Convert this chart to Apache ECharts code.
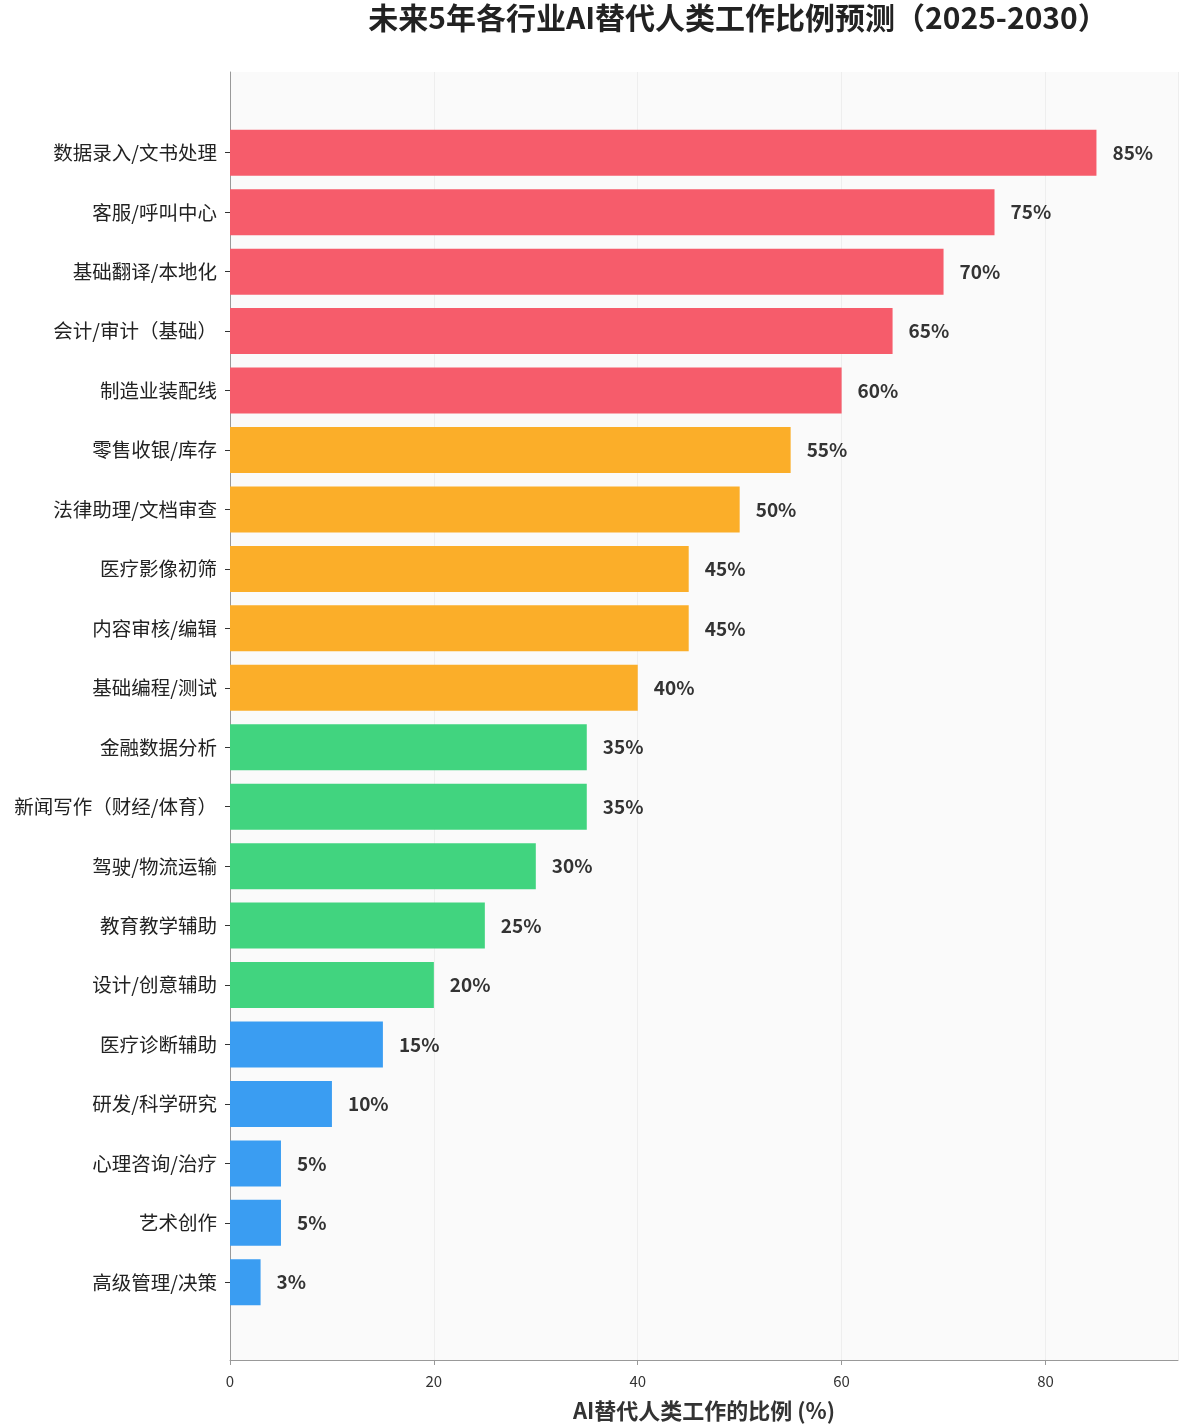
<!DOCTYPE html><html><head><meta charset="utf-8"><script src="https://cdn.jsdelivr.net/npm/echarts@6/dist/echarts.min.js"></script>
<style>html,body{margin:0;background:#fff}#c{width:1179px;height:1427px}</style></head><body><div id="c"></div><script>
const categories=["数据录入/文书处理","客服/呼叫中心","基础翻译/本地化","会计/审计（基础）","制造业装配线","零售收银/库存","法律助理/文档审查","医疗影像初筛","内容审核/编辑","基础编程/测试","金融数据分析","新闻写作（财经/体育）","驾驶/物流运输","教育教学辅助","设计/创意辅助","医疗诊断辅助","研发/科学研究","心理咨询/治疗","艺术创作","高级管理/决策"];
const values=[85,75,70,65,60,55,50,45,45,40,35,35,30,25,20,15,10,5,5,3];
const xTicks=[0,20,40,60,80];
function color(v){return v>=60?'#f65c6b':v>=40?'#fbae29':v>=20?'#41d47f':'#3a9df2';}
const ch=echarts.init(document.getElementById('c'));
const font='"Noto Sans CJK SC",sans-serif';
ch.setOption({
title:{text:'未来5年各行业AI替代人类工作比例预测（2025-2030）',left:733,textAlign:'center',top:-2,textStyle:{fontSize:30,fontWeight:'bold',color:'#222',fontFamily:font}},
grid:[{left:230,right:1,top:72,bottom:64,backgroundColor:'#fafafa',show:true,borderWidth:0},
{left:230,right:1,top:123,bottom:115}],
xAxis:[{gridIndex:0,type:'value',min:0,max:93,interval:20,axisLine:{show:true,lineStyle:{color:'#999'}},axisTick:{show:true,lineStyle:{color:'#999'}},splitLine:{show:true,lineStyle:{color:'#eeeeee'}},
axisLabel:{color:'#333',fontSize:15,fontFamily:font,margin:14,showMaxLabel:false},name:'AI替代人类工作的比例 (%)',nameLocation:'middle',nameGap:40,nameTextStyle:{fontSize:22,fontWeight:'bold',color:'#333',fontFamily:font}},
{gridIndex:1,type:'value',min:0,max:93,show:false}],
yAxis:[{gridIndex:0,type:'value',min:0,max:1,axisLine:{show:true,lineStyle:{color:'#999'}},axisLabel:{show:false},axisTick:{show:false},splitLine:{show:false}},
{gridIndex:1,type:'category',inverse:true,data:categories,axisLine:{show:false},axisTick:{show:true,length:5,alignWithLabel:true,lineStyle:{color:'#333'}},axisLabel:{color:'#222',fontSize:19.5,fontFamily:font,margin:13}}],
series:[{type:'bar',xAxisIndex:1,yAxisIndex:1,barWidth:46,data:values.map(v=>({value:v,itemStyle:{color:color(v)}})),
label:{show:true,position:'right',distance:16,formatter:'{c}%',fontSize:19,fontWeight:'bold',color:'#333',fontFamily:font}}]
});
</script></body></html>
